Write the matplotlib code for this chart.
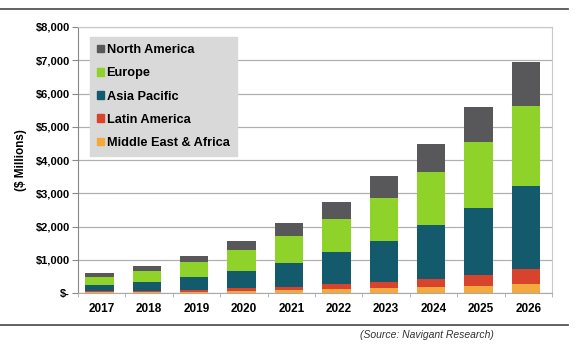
import numpy as np
import matplotlib.pyplot as plt
from matplotlib.patches import Patch

plt.rcParams['font.family'] = ['Liberation Sans', 'DejaVu Sans']

years = ['2017', '2018', '2019', '2020', '2021', '2022', '2023', '2024', '2025', '2026']
mea = [20, 30, 40, 60, 80, 110, 150, 170, 220, 270]
latin_america = [30, 40, 60, 90, 110, 160, 190, 250, 320, 440]
asia_pacific = [200, 270, 390, 520, 720, 970, 1230, 1630, 2030, 2520]
europe = [230, 330, 450, 620, 800, 990, 1300, 1590, 1980, 2400]
north_america = [110, 140, 180, 270, 400, 520, 650, 840, 1050, 1310]

series = [
    ('Middle East & Africa', mea, '#f4a93c'),
    ('Latin America', latin_america, '#d8432d'),
    ('Asia Pacific', asia_pacific, '#135b6c'),
    ('Europe', europe, '#8fd22a'),
    ('North America', north_america, '#58585a'),
]

fig = plt.figure(figsize=(5.8, 3.54), dpi=100)
ax = fig.add_axes([78 / 580, 1 - 293 / 354, 474 / 580, 266 / 354])

x = np.arange(len(years))
bottom = np.zeros(len(years))
for name, vals, color in series:
    ax.bar(x - 0.05, vals, bottom=bottom, width=0.6, color=color, zorder=3)
    bottom += np.array(vals)

ax.set_xlim(-0.5, len(years) - 0.5)
ax.set_ylim(0, 8000)
yt = np.arange(0, 8001, 1000)
ax.set_yticks(yt)
ax.set_yticklabels(['$-'] + [f'${v:,}' for v in yt[1:]], fontsize=8, fontweight='bold')
ax.set_xticks(x)
ax.set_xticklabels(years, fontsize=8.5, fontweight='bold')
ax.tick_params(axis='y', length=4, color='#888888', pad=2)
ax.tick_params(axis='x', length=0, pad=7)
ax.set_xticks(np.arange(-0.5, len(years), 1), minor=True)
ax.tick_params(axis='x', which='minor', length=3, color='#aaaaaa')
ax.grid(axis='y', color='#b0b0b0', linewidth=0.9, zorder=0)
for side in ['top', 'right']:
    ax.spines[side].set_color('#c8c8c8')
ax.spines['left'].set_color('#888888')
ax.spines['bottom'].set_color('#aaaaaa')
ax.set_ylabel('($ Millions)', fontsize=8.5, fontweight='bold', labelpad=6)

handles = [Patch(color=c, label=n) for n, _, c in reversed(series)]
leg = ax.legend(handles=handles, loc='upper left', bbox_to_anchor=(12 / 474, 1 - 10 / 266),
                borderaxespad=0, frameon=True, fancybox=False, handlelength=0.55,
                handleheight=0.55, handletextpad=0.2, labelspacing=0.88, borderpad=0.55,
                prop={'size': 9.2, 'weight': 'bold'})
leg.get_frame().set_facecolor('#d9d9d9')
leg.get_frame().set_edgecolor('#d9d9d9')
leg.get_frame().set_alpha(1)

fig.add_artist(plt.Line2D([0, 568 / 580], [1 - 9 / 354] * 2, color='#555555', linewidth=1.3))
fig.add_artist(plt.Line2D([0, 568 / 580], [1 - 325 / 354] * 2, color='#555555', linewidth=1.3))
fig.text(427 / 580, 1 - 335 / 354, '(Source: Navigant Research)', fontsize=7.5, style='italic',
         color='#333333', ha='center', va='center')

fig.savefig('out.png', dpi=100)
